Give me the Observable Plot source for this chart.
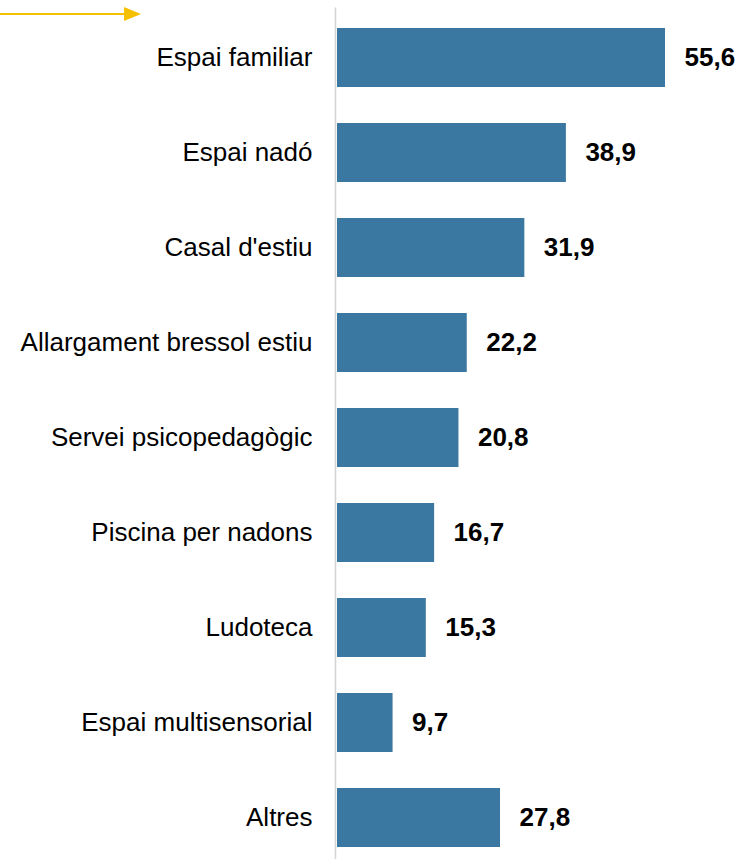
<!DOCTYPE html>
<html>
<head>
<meta charset="utf-8">
<script src="https://cdn.jsdelivr.net/npm/d3@7"></script>
<script src="https://cdn.jsdelivr.net/npm/@observablehq/plot@0.6"></script>
<style>
  html, body { margin: 0; padding: 0; background: #fff; }
  #wrap { position: relative; width: 740px; height: 859px; }
  #arrow { position: absolute; left: 0; top: 0; }
</style>
</head>
<body>
<div id="wrap">
  <div id="chart"></div>
  <svg id="arrow" width="150" height="28" viewBox="0 0 150 28">
    <line x1="0" y1="14" x2="126" y2="14" stroke="#f5c000" stroke-width="2"></line>
    <polygon points="124,7 141,14 124,21" fill="#f5c000"></polygon>
  </svg>
</div>
<script>
const categories = [
  "Espai familiar",
  "Espai nadó",
  "Casal d'estiu",
  "Allargament bressol estiu",
  "Servei psicopedagògic",
  "Piscina per nadons",
  "Ludoteca",
  "Espai multisensorial",
  "Altres"
];
const values = [55.6, 38.9, 31.9, 22.2, 20.8, 16.7, 15.3, 9.7, 27.8];

const data = categories.map((c, i) => ({category: c, value: values[i]}));
const fmt = v => v.toFixed(1).replace(".", ",");

const chart = Plot.plot({
  width: 740,
  height: 859,
  marginLeft: 335,
  marginRight: 75,
  marginTop: 16.5,
  marginBottom: 1.5,
  style: {fontFamily: "'Liberation Sans', Arial, sans-serif", background: "#fff"},
  x: {domain: [0, 55.6], axis: null},
  y: {domain: categories, padding: 0.38, paddingOuter: 0.1, label: null},
  marks: [
    Plot.barX(data, {x: "value", y: "category", fill: "#3a77a1", insetLeft: 2}),
    Plot.ruleX([0], {stroke: "#d4d4d4", strokeWidth: 1.5, insetTop: -9, insetBottom: -2}),
    Plot.text(data, {x: "value", y: "category", text: d => fmt(d.value), textAnchor: "start", dx: 19, fontSize: 26, fontWeight: "bold", fill: "#000"}),
    Plot.axisY({tickSize: 0, tickPadding: 23, fontSize: 26, label: null, color: "#000"})
  ]
});
document.getElementById("chart").appendChild(chart);
</script>
</body>
</html>
